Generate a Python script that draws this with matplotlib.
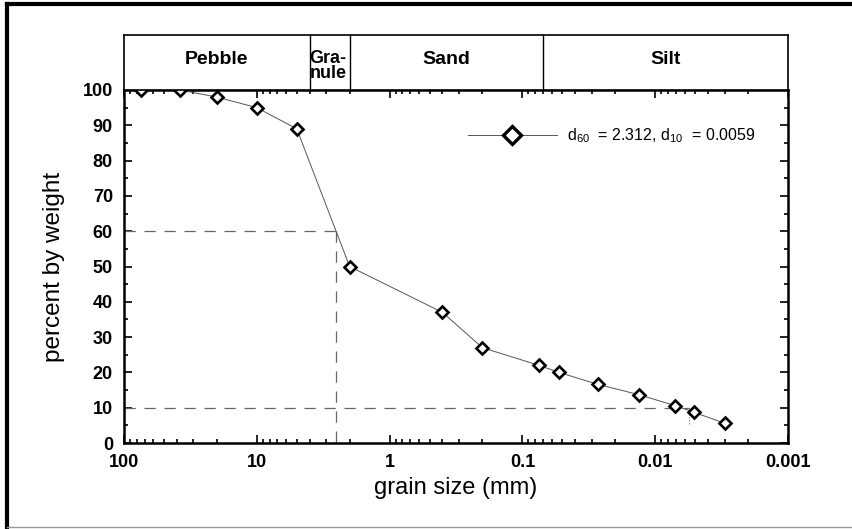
import matplotlib
matplotlib.use("Agg")
import matplotlib.pyplot as plt
from matplotlib.ticker import FixedLocator, FuncFormatter, LogLocator, MultipleLocator
from matplotlib.lines import Line2D

plt.rcParams['font.family'] = ['Liberation Sans', 'DejaVu Sans']
plt.rcParams['mathtext.fontset'] = 'custom'
plt.rcParams['mathtext.rm'] = 'Liberation Sans'
plt.rcParams['mathtext.it'] = 'Liberation Sans:italic'
plt.rcParams['mathtext.default'] = 'regular'

# sieve data
grain_mm = [75, 38, 20, 10, 5, 2, 0.4, 0.2, 0.075, 0.053, 0.027, 0.0133, 0.0071, 0.0051, 0.003]
pct_finer = [100, 100, 98, 95, 89, 50, 37, 27, 22, 20, 16.6, 13.7, 10.6, 8.7, 5.6]

# guide lines (as drawn)
d60_x, d60_y = 2.55, 60
d10_x, d10_y = 0.0056, 10

# size classes for the top band
class_edges = [100, 4, 2, 0.07, 0.001]
class_names = ["Pebble", "Gra-\nnule", "Sand", "Silt"]

x_ticks = [100, 10, 1, 0.1, 0.01, 0.001]
legend_label = r"d$_{60}$  = 2.312, d$_{10}$  = 0.0059"

W, H = 853, 529
fig = plt.figure(figsize=(W / 100, H / 100), dpi=100)

ax = fig.add_axes([124 / W, 1 - 443 / H, (788 - 124) / W, (443 - 90) / H])
band = fig.add_axes([124 / W, 1 - 90 / H, (788 - 124) / W, (90 - 35) / H])

# guide lines
ax.plot([100, d60_x], [d60_y, d60_y], color="#666666", lw=0.9, dashes=(9, 7))
ax.plot([d60_x, d60_x], [d60_y, 0], color="#666666", lw=0.9, dashes=(9, 7))
ax.plot([100, d10_x], [d10_y, d10_y], color="#666666", lw=0.9, dashes=(9, 7))
ax.plot([d10_x, d10_x], [d10_y, 5.5], color="#666666", lw=0.8, ls=":")

ax.plot(grain_mm, pct_finer, color="#555555", lw=0.7, marker="D", ms=6.5,
        mfc="white", mec="black", mew=1.9, zorder=5)

ax.set_xscale("log")
ax.set_xlim(100, 0.001)
ax.set_ylim(0, 100)
ax.xaxis.set_major_locator(FixedLocator(x_ticks))
ax.xaxis.set_major_formatter(FuncFormatter(lambda v, p: "%g" % v))
ax.xaxis.set_minor_locator(LogLocator(base=10, subs=range(2, 10)))
ax.yaxis.set_major_locator(MultipleLocator(10))
ax.yaxis.set_minor_locator(MultipleLocator(5))
ax.tick_params(which="both", direction="in", top=True, right=True, width=1.2)
ax.tick_params(which="major", length=6, labelsize=13, pad=8)
ax.tick_params(which="minor", length=3)
for lab in ax.get_xticklabels() + ax.get_yticklabels():
    lab.set_fontweight("bold")
for s in ax.spines.values():
    s.set_linewidth(1.8)

ax.set_xlabel("grain size (mm)", fontsize=17, labelpad=4)
ax.set_ylabel("percent by weight", fontsize=17.5, labelpad=13)

leg_handle = Line2D([], [], color="#555555", lw=0.7, marker="D", ms=9,
                    mfc="white", mec="black", mew=2.4)
ax.legend([leg_handle], [legend_label], loc="center left", bbox_to_anchor=(0.508, 0.870),
          frameon=False, fontsize=11.5, handlelength=5.6, handletextpad=0.6,
          borderaxespad=0)

# size class band
band.set_xscale("log")
band.set_xlim(100, 0.001)
band.set_ylim(0, 1)
band.set_xticks([])
band.set_yticks([])
band.minorticks_off()
for s in band.spines.values():
    s.set_linewidth(1.2)
for e in class_edges[1:-1]:
    band.axvline(e, color="black", lw=1.0)
for i, name in enumerate(class_names):
    xc = (class_edges[i] * class_edges[i + 1]) ** 0.5
    if name.startswith("Gra"):
        band.text(class_edges[i], 0.44, name, ha="left", va="center", fontsize=13,
                  fontweight="bold", linespacing=0.8)
    else:
        band.text(xc, 0.55, name, ha="center", va="center", fontsize=14, fontweight="bold")

# outer frame
fig.add_artist(Line2D([7 / W, 7 / W], [1 - 4 / H, 1 - 527 / H], color="black", lw=3))
fig.add_artist(Line2D([7 / W, 1], [1 - 4 / H, 1 - 4 / H], color="black", lw=3))
fig.add_artist(Line2D([7 / W, 1], [1 - 527 / H, 1 - 527 / H], color="#999999", lw=1))

fig.savefig("out.png", dpi=100)
